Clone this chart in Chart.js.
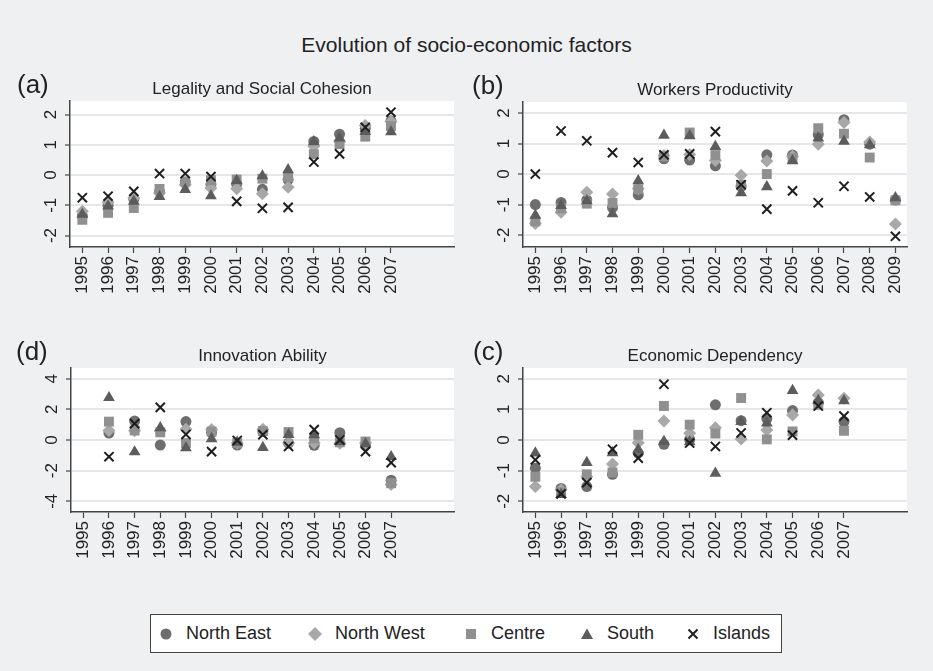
<!DOCTYPE html>
<html>
<head>
<meta charset="utf-8">
<script src="https://cdn.jsdelivr.net/npm/chart.js@4.4.0/dist/chart.umd.min.js"></script>
<style>
  html, body { margin: 0; padding: 0; background: #eef0f2; }
  body { width: 933px; height: 671px; position: relative; overflow: hidden;
         font-family: "Liberation Sans", Arial, sans-serif; color: #222; }
  #title { position: absolute; left: 0; top: 33px; width: 933px; text-align: center;
           font-size: 21px; line-height: 24px; }
  .panel { position: absolute; }
  #legend { position: absolute; left: 150px; top: 614px; width: 630px; height: 37px;
            background: #fff; border: 1px solid #444; font-size: 18px; color: #222; }
  .item { position: absolute; top: 0; height: 37px; display: flex; align-items: center; white-space: nowrap; }
  .item svg { margin-right: 12px; }
</style>
</head>
<body>
<div id="title">Evolution of socio-economic factors</div>
<canvas id="panelA" class="panel" width="466" height="260" style="left:0;top:60px"></canvas>
<canvas id="panelB" class="panel" width="467" height="260" style="left:466px;top:60px"></canvas>
<canvas id="panelD" class="panel" width="466" height="260" style="left:0;top:320px"></canvas>
<canvas id="panelC" class="panel" width="467" height="260" style="left:466px;top:320px"></canvas>
<div id="legend">
  <div class="item" style="left:7px"><svg width="16" height="16"><circle cx="8" cy="8" r="5.5" fill="#6e6e6e"/></svg>North East</div>
  <div class="item" style="left:156px"><svg width="16" height="16"><polygon points="8,1 15,8 8,15 1,8" fill="#a8a8a8"/></svg>North West</div>
  <div class="item" style="left:312px"><svg width="16" height="16"><rect x="3" y="3" width="10" height="10" fill="#909090"/></svg>Centre</div>
  <div class="item" style="left:428px"><svg width="16" height="16"><polygon points="8,2.5 14,13 2,13" fill="#5c5c5c"/></svg>South</div>
  <div class="item" style="left:534px"><svg width="16" height="16"><path d="M3.5,3.5 L12.5,12.5 M12.5,3.5 L3.5,12.5" stroke="#1e1e1e" stroke-width="2"/></svg>Islands</div>
</div>
<script>
const FONT = '"Liberation Sans", Arial, sans-serif';
const TEXT_COLOR = "#222";
const AXIS_COLOR = "#444";
const GRID_COLOR = "#e6e7e9";

const regions = ["North East", "North West", "Centre", "South", "Islands"];

const years13 = [1995, 1996, 1997, 1998, 1999, 2000, 2001, 2002, 2003, 2004, 2005, 2006, 2007];
const years15 = [1995, 1996, 1997, 1998, 1999, 2000, 2001, 2002, 2003, 2004, 2005, 2006, 2007, 2008, 2009];
const yTicksSmall = [-2, -1, 0, 1, 2];
const yTicksWide = [-4, -2, 0, 2, 4];

// (a) Legality and Social Cohesion, 1995-2007
const legalityNE = [-1.35, -1.0, -0.8, -0.55, -0.23, -0.3, -0.3, -0.47, -0.15, 1.11, 1.35, 1.55, 1.79];
const legalityNW = [-1.2, -0.9, -0.76, -0.59, -0.32, -0.43, -0.45, -0.62, -0.4, 0.95, 1.11, 1.64, 1.77];
const legalityCE = [-1.48, -1.25, -1.09, -0.46, -0.22, -0.17, -0.15, -0.12, -0.07, 0.69, 1.02, 1.27, 1.62];
const legalitySO = [-1.3, -1.03, -0.87, -0.71, -0.48, -0.69, -0.18, -0.03, 0.17, 1.1, 1.22, 1.44, 1.43];
const legalityIS = [-0.75, -0.7, -0.54, 0.05, 0.05, -0.05, -0.87, -1.1, -1.07, 0.43, 0.7, 1.58, 2.08];

// (b) Workers Productivity, 1995-2009
const workersNE = [-1.0, -0.93, -0.85, -1.1, -0.68, 0.5, 0.46, 0.27, -0.4, 0.63, 0.62, 1.29, 1.78, 0.98, -0.85];
const workersNW = [-1.62, -1.25, -0.6, -0.65, -0.48, 0.61, 0.64, 0.44, -0.04, 0.43, 0.58, 0.98, 1.69, 1.05, -1.64];
const workersCE = [-1.55, -1.12, -0.97, -0.95, -0.5, 0.57, 1.36, 0.62, -0.36, 0.0, 0.52, 1.5, 1.32, 0.54, -0.86];
const workersSO = [-1.35, -1.03, -0.88, -1.3, -0.22, 1.27, 1.25, 0.9, -0.62, -0.42, 0.43, 1.18, 1.07, 0.96, -0.78];
const workersIS = [0.0, 1.41, 1.09, 0.7, 0.38, 0.63, 0.66, 1.39, -0.35, -1.15, -0.55, -0.94, -0.4, -0.75, -2.04];

// (d) Innovation Ability, 1995-2007 (no 1995 values)
const innovationNE = [null, 0.45, 1.24, -0.33, 1.2, 0.5, -0.33, 0.55, -0.2, -0.35, 0.48, -0.3, -2.62];
const innovationNW = [null, 0.62, 0.6, 0.6, 0.7, 0.68, -0.2, 0.7, -0.2, -0.2, -0.22, -0.2, -2.9];
const innovationCE = [null, 1.2, 0.62, 0.5, -0.2, 0.55, -0.2, 0.58, 0.52, 0.1, -0.15, -0.1, -2.82];
const innovationSO = [null, 2.76, -0.78, 0.8, -0.52, 0.08, -0.15, -0.5, 0.35, 0.33, -0.1, -0.25, -1.09];
const innovationIS = [null, -1.09, 1.07, 2.13, 0.36, -0.76, -0.03, 0.35, -0.42, 0.68, 0.0, -0.76, -1.48];

// (c) Economic Dependency, 1995-2007
const dependencyNE = [-0.92, -1.58, -1.52, -1.12, -0.43, -0.14, 0.02, 1.15, 0.63, 0.7, 0.96, 1.22, 0.6];
const dependencyNW = [-1.52, -1.62, -1.2, -0.78, -0.09, 0.62, 0.22, 0.4, 0.03, 0.33, 0.82, 1.47, 1.36];
const dependencyCE = [-1.2, -1.7, -1.12, -1.06, 0.17, 1.11, 0.5, 0.21, 1.37, 0.02, 0.28, 1.15, 0.3];
const dependencySO = [-0.43, -1.78, -0.74, -0.42, -0.31, -0.05, -0.06, -1.09, 0.6, 0.55, 1.61, 1.29, 1.28];
const dependencyIS = [-0.65, -1.76, -1.39, -0.3, -0.59, 1.82, -0.1, -0.21, 0.23, 0.89, 0.16, 1.11, 0.78];

const markers = [
  { shape: "circle", radius: 5.5, color: "#6e6e6e", width: 0 },
  { shape: "rectRot", radius: 6.5, color: "#a8a8a8", width: 0 },
  { shape: "rect", radius: 7, color: "#909090", width: 0 },
  { shape: "triangle", radius: 6.8, color: "#5c5c5c", width: 0 },
  { shape: "crossRot", radius: 6.5, color: "#1e1e1e", width: 2 },
];

Chart.defaults.font.family = FONT;

const whitePlot = {
  id: "whitePlot",
  beforeDraw(chart) {
    const { ctx, chartArea: a } = chart;
    ctx.save();
    ctx.fillStyle = "#ffffff";
    ctx.fillRect(a.left, a.top, a.right - a.left, a.bottom - a.top);
    ctx.restore();
  },
};

const panelText = {
  id: "panelText",
  afterDraw(chart, args, opts) {
    const { ctx, chartArea: a } = chart;
    const yScale = chart.scales.y;
    ctx.save();
    ctx.fillStyle = TEXT_COLOR;
    ctx.textAlign = "center";
    ctx.textBaseline = "middle";
    ctx.font = "17px " + FONT;
    yScale.ticks.forEach((t) => {
      ctx.save();
      ctx.translate(a.left - 19, yScale.getPixelForValue(t.value));
      ctx.rotate(-Math.PI / 2);
      ctx.fillText(String(t.value), 0, 0);
      ctx.restore();
    });
    ctx.font = "17px " + FONT;
    ctx.fillText(opts.title, (a.left + a.right) / 2, a.top - 12);
    ctx.textAlign = "left";
    ctx.font = "26px " + FONT;
    ctx.fillText(opts.letter, opts.letterX, a.top - 15);
    ctx.restore();
  },
};

function buildDatasets(years, series) {
  return series.map((values, i) => ({
    label: regions[i],
    data: years.map((x, j) => ({ x, y: values[j] })),
    pointStyle: markers[i].shape,
    pointRadius: markers[i].radius,
    pointHoverRadius: markers[i].radius,
    backgroundColor: markers[i].color,
    borderColor: markers[i].color,
    borderWidth: markers[i].width,
    showLine: false,
    order: series.length - 1 - i,
  }));
}

function renderPanel(canvasId, p) {
  return new Chart(document.getElementById(canvasId), {
    type: "scatter",
    data: { datasets: buildDatasets(p.years, p.series) },
    plugins: [whitePlot, panelText],
    options: {
      responsive: false,
      animation: false,
      layout: { padding: { left: 0, top: p.top, right: p.right, bottom: 0 } },
      plugins: {
        legend: { display: false },
        tooltip: { enabled: false },
        panelText: { title: p.title, letter: p.letter, letterX: p.letterX },
      },
      scales: {
        x: {
          type: "linear",
          min: 1994.52,
          max: 2009.45,
          afterBuildTicks(scale) {
            scale.ticks = p.years.map((v) => ({ value: v }));
          },
          afterFit(scale) {
            scale.height = p.bottom;
          },
          grid: { display: true, drawOnChartArea: false, drawTicks: true, tickLength: 6,
                  tickColor: AXIS_COLOR, tickWidth: 1.2 },
          border: { display: true, color: AXIS_COLOR, width: 1.5 },
          ticks: { autoSkip: false, minRotation: 90, maxRotation: 90, padding: 3,
                   color: TEXT_COLOR, font: { size: 17 }, callback: (v) => String(v) },
        },
        y: {
          min: p.yMin,
          max: p.yMax,
          afterBuildTicks(scale) {
            scale.ticks = p.yTicks.map((v) => ({ value: v }));
          },
          afterFit(scale) {
            scale.width = p.left;
          },
          grid: { color: GRID_COLOR, lineWidth: 2, drawTicks: true, tickLength: 5,
                  tickColor: AXIS_COLOR, tickWidth: 1.2 },
          border: { display: true, color: AXIS_COLOR, width: 1.5 },
          ticks: { display: false },
        },
      },
    },
  });
}

renderPanel("panelA", {
  title: "Legality and Social Cohesion", letter: "(a)", letterX: 17,
  years: years13, yTicks: yTicksSmall, yMin: -2.38, yMax: 2.45,
  left: 70, top: 41, right: 12, bottom: 73,
  series: [legalityNE, legalityNW, legalityCE, legalitySO, legalityIS],
});

renderPanel("panelB", {
  title: "Workers Productivity", letter: "(b)", letterX: 6,
  years: years15, yTicks: yTicksSmall, yMin: -2.39, yMax: 2.36,
  left: 57, top: 42, right: 26, bottom: 73,
  series: [workersNE, workersNW, workersCE, workersSO, workersIS],
});

renderPanel("panelD", {
  title: "Innovation Ability", letter: "(d)", letterX: 16,
  years: years13, yTicks: yTicksWide, yMin: -4.7, yMax: 4.7,
  left: 71, top: 48, right: 12, bottom: 68,
  series: [innovationNE, innovationNW, innovationCE, innovationSO, innovationIS],
});

renderPanel("panelC", {
  title: "Economic Dependency", letter: "(c)", letterX: 7,
  years: years13, yTicks: yTicksSmall, yMin: -2.35, yMax: 2.35,
  left: 57, top: 48, right: 26, bottom: 68,
  series: [dependencyNE, dependencyNW, dependencyCE, dependencySO, dependencyIS],
});
</script>
</body>
</html>
